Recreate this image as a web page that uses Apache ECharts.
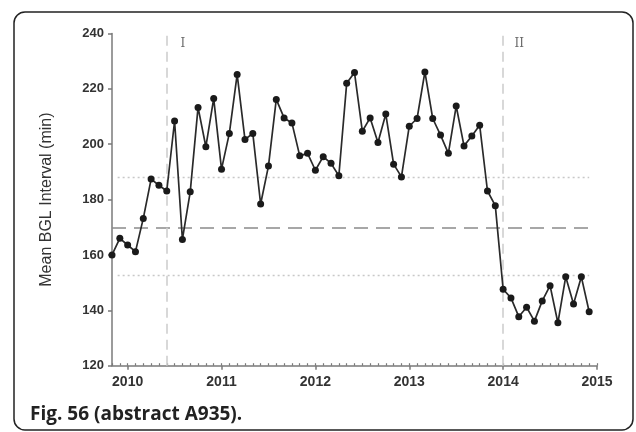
<!DOCTYPE html>
<html>
<head>
<meta charset="utf-8">
<script src="https://cdn.jsdelivr.net/npm/echarts@6/dist/echarts.min.js"></script>
<style>
html,body{margin:0;padding:0;background:#fff;}
#c{width:636px;height:432px;}
</style>
</head>
<body>
<div id="c"></div>
<script>
// Monthly mean BGL interval (min), Nov 2009 .. Dec 2014
const startYear = 2009;
const startMonth = 11; // November
const bgl2009 = [160, 166];
const bgl2010 = [163.6, 161.2, 173.2, 187.4, 185.2, 183.1, 208.4, 165.6, 182.8, 213.3, 199.1, 216.5];
const bgl2011 = [191.0, 203.9, 225.2, 201.7, 203.9, 178.4, 192.1, 216.2, 209.5, 207.7, 195.8, 196.7];
const bgl2012 = [190.6, 195.5, 193.1, 188.6, 222.0, 225.9, 204.7, 209.5, 200.6, 210.9, 192.8, 188.2];
const bgl2013 = [206.5, 209.3, 226.1, 209.3, 203.3, 196.7, 213.8, 199.4, 203.0, 206.9, 183.1, 177.8];
const bgl2014 = [147.6, 144.5, 137.7, 141.1, 136.1, 143.4, 148.9, 135.5, 152.1, 142.3, 152.1, 139.5];

const yearTicks = [2010, 2011, 2012, 2013, 2014, 2015];
const yTicks = [120, 140, 160, 180, 200, 220, 240];
const centerLine = 170;
const controlLimits = [188, 152.6];
const phaseNames = ['I', 'II'];
const phaseStarts = [[2010, 6], [2014, 1]]; // [year, month]
const caption = 'Fig. 56 (abstract A935).';
const yTitle = 'Mean BGL Interval (min)';

const allValues = [].concat(bgl2009, bgl2010, bgl2011, bgl2012, bgl2013, bgl2014);
function decYear(y, m) { return y + (m - 1) / 12; }
const seriesData = allValues.map((v, i) => {
  const mIdx = startMonth - 1 + i;
  const y = startYear + Math.floor(mIdx / 12);
  const m = (mIdx % 12) + 1;
  return [decYear(y, m), v];
});
const xMin = decYear(startYear, startMonth);
const xMax = yearTicks[yearTicks.length - 1];
const firstX = seriesData[0][0];
const lastX = seriesData[seriesData.length - 1][0];
const monthTicks = [];
for (let k = 0; xMin + k / 12 <= xMax + 1e-9; k++) monthTicks.push(xMin + k / 12);
const phaseX = phaseStarts.map(p => decYear(p[0], p[1]));

const chart = echarts.init(document.getElementById('c'), null, {renderer: 'canvas'});
const fontFam = 'Liberation Sans, Arial, sans-serif';
const axisColor = '#7a7a7a';

chart.setOption({
  backgroundColor: '#fff',
  animation: false,
  grid: {left: 112, right: 39, top: 33.5, bottom: 66.3},
  xAxis: [{
    type: 'value', min: xMin, max: xMax,
    axisLine: {show: true, lineStyle: {color: axisColor, width: 1.5}},
    axisTick: {show: true, customValues: yearTicks, length: 4, lineStyle: {color: axisColor, width: 1.5}},
    axisLabel: {show: true, customValues: yearTicks, margin: 9, formatter: v => String(Math.round(v)),
      fontFamily: fontFam, fontWeight: 'bold', fontSize: 14, color: '#333'},
    splitLine: {show: false}
  }, {
    type: 'value', min: xMin, max: xMax, position: 'bottom',
    axisLine: {show: false},
    axisTick: {show: true, inside: true, customValues: monthTicks, length: 2.5, lineStyle: {color: axisColor, width: 1.2}},
    axisLabel: {show: false},
    splitLine: {show: false}
  }],
  yAxis: {
    type: 'value', min: yTicks[0], max: yTicks[yTicks.length - 1], interval: 20,
    name: yTitle, nameLocation: 'middle', nameGap: 57,
    nameTextStyle: {fontFamily: fontFam, fontSize: 16, color: '#333'},
    axisLine: {show: true, lineStyle: {color: axisColor, width: 1.5}},
    axisTick: {show: true, length: 4, lineStyle: {color: axisColor, width: 1.5}},
    axisLabel: {margin: 8, fontFamily: fontFam, fontWeight: 'bold', fontSize: 13, color: '#333'},
    splitLine: {show: false}
  },
  series: [{
    type: 'line',
    data: seriesData,
    symbol: 'circle', symbolSize: 7,
    itemStyle: {color: '#1a1a1a'},
    lineStyle: {color: '#2a2a2a', width: 1.7},
    z: 5,
    markLine: {
      silent: true, symbol: 'none', animation: false,
      label: {show: false},
      data: [
        [{coord: [firstX, centerLine], lineStyle: {color: '#8a8a8a', type: [14, 8], width: 1.6}}, {coord: [lastX, centerLine]}],
        [{coord: [firstX + 0.06, controlLimits[0]], lineStyle: {color: '#c8c8c8', type: [2, 3], width: 1.4}}, {coord: [lastX, controlLimits[0]]}],
        [{coord: [firstX + 0.06, controlLimits[1]], lineStyle: {color: '#c8c8c8', type: [2, 3], width: 1.4}}, {coord: [lastX, controlLimits[1]]}],
        {xAxis: phaseX[0], lineStyle: {color: '#cfcfcf', type: [10, 6], width: 1.6}},
        {xAxis: phaseX[1], lineStyle: {color: '#cfcfcf', type: [10, 6], width: 1.6}}
      ]
    }
  }, {
    type: 'scatter',
    symbolSize: 0,
    silent: true,
    data: phaseX.map((x, i) => ({value: [x, 236.3], name: phaseNames[i]})),
    label: {
      show: true, position: 'inside', offset: [16, 0],
      formatter: p => p.name,
      fontFamily: 'DejaVu Serif, Liberation Serif, serif', fontSize: 12, color: '#444'
    }
  }],
  graphic: [{
    type: 'rect', silent: true,
    shape: {x: 14, y: 12, width: 619, height: 418, r: 11},
    style: {fill: 'none', stroke: '#222', lineWidth: 1.5}
  }, {
    type: 'text', left: 30, top: 405,
    style: {text: caption, fontFamily: 'Open Sans, Noto Sans, sans-serif', fontWeight: 'bold', fontSize: 19, fill: '#222'}
  }]
});
</script>
</body>
</html>
